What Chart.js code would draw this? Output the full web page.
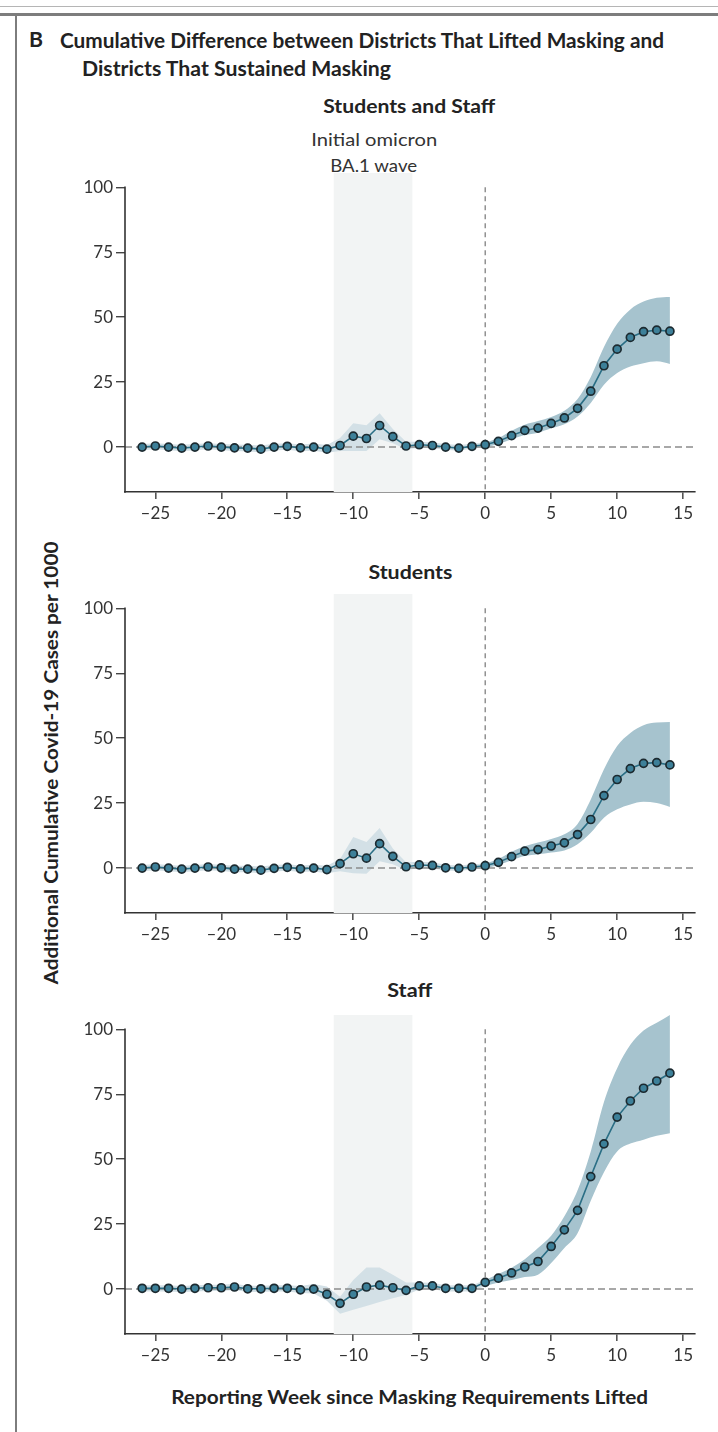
<!DOCTYPE html>
<html><head><meta charset="utf-8">
<script src="https://cdn.jsdelivr.net/npm/chart.js@4.4.1/dist/chart.umd.min.js"></script>
<style>
html,body{margin:0;padding:0;background:#fff;}
body{width:718px;height:1432px;position:relative;overflow:hidden;font-family:Lato,"Open Sans",sans-serif;}
.t{position:absolute;white-space:nowrap;line-height:24px;height:24px;color:#222;display:inline-block;}
.b{font-weight:700;}
canvas{position:absolute;left:0;}
.hl{position:absolute;left:0;width:718px;}
</style>
</head><body>
<div class="hl" style="top:6px;height:1px;background:#b5b5b5"></div>
<div class="hl" style="top:13px;height:3px;background:#7d7d7d"></div>
<div style="position:absolute;left:15px;top:15px;width:2px;height:1417px;background:#7d7d7d"></div>

<div class="t b" style="font-size:21px" data-x="29" data-y="39" data-w="14">B</div>
<div class="t b" style="font-size:20px" data-x="60" data-y="40" data-w="604">Cumulative Difference between Districts That Lifted Masking and</div>
<div class="t b" style="font-size:20px" data-x="82" data-y="68" data-w="309">Districts That Sustained Masking</div>
<div class="t b" style="font-size:18px" data-x="409" data-y="106" data-w="172" data-a="c">Students and Staff</div>
<div class="t" style="font-size:17px;color:#333" data-x="374" data-y="140" data-w="126" data-a="c">Initial omicron</div>
<div class="t" style="font-size:17px;color:#333" data-x="374" data-y="166" data-w="87" data-a="c">BA.1 wave</div>
<div class="t b" style="font-size:18px" data-x="410" data-y="572" data-w="84" data-a="c">Students</div>
<div class="t b" style="font-size:18px" data-x="410" data-y="990" data-w="45" data-a="c">Staff</div>
<div class="t b" style="font-size:18px" data-x="410" data-y="1397" data-w="477" data-a="c">Reporting Week since Masking Requirements Lifted</div>
<div class="t b" id="ylab" style="font-size:18px" data-x="51" data-y="763" data-w="443" data-a="r">Additional Cumulative Covid-19 Cases per 1000</div>

<canvas id="c1"></canvas>
<canvas id="c2"></canvas>
<canvas id="c3"></canvas>

<script>
// ---------- data ----------
const weeks = [-26,-25,-24,-23,-22,-21,-20,-19,-18,-17,-16,-15,-14,-13,-12,-11,-10,-9,-8,-7,-6,-5,-4,-3,-2,-1,0,1,2,3,4,5,6,7,8,9,10,11,12,13,14];
const xTicks = [-25,-20,-15,-10,-5,0,5,10,15];
const yTicks = [0,25,50,75,100];
const waveWeeks = [-11.5,-5.5];
const liftWeek = 0;

// Students and Staff
const bothMean  = [0,0.4,0,-0.4,0,0.4,0,-0.3,-0.4,-0.8,0,0.3,-0.3,0,-0.8,0.6,4.2,3.3,8.3,4,0.4,0.9,0.6,0,-0.4,0.3,0.9,2.2,4.4,6.4,7.3,9.1,11.2,14.9,21.5,31.3,37.7,42.2,44.4,45,44.6];
const bothUpper = [1.2,1.5,1.2,0.9,1.2,1.5,1.2,1,0.9,0.6,1.3,1.5,1,1.4,0.8,3.5,9.2,8.4,13,7,2,2,1.8,1.2,0.8,1.3,1.8,3.5,6.3,8.6,10,11.6,14,18.5,27,38.5,47.5,53,56,57.5,57.8];
const bothLower = [-1.2,-0.8,-1.2,-1.6,-1.2,-0.8,-1.2,-1.5,-1.7,-2,-1.3,-1,-1.6,-1.4,-2.2,-1.5,-1.5,-1.5,3,1.5,-0.8,-0.3,-0.5,-1,-1.4,-0.6,0,1.2,3,4.6,5.5,7.2,8.8,11.8,17,24,28.5,31,32.3,33,32];

// Students
const studMean  = [0,0.4,0,-0.4,0,0.4,0.1,-0.4,-0.4,-0.8,-0.1,0.3,-0.3,0,-0.6,1.7,5.5,3.8,9.4,4.5,0.5,1.2,1,0.1,-0.1,0.4,0.9,2.2,4.4,6.5,7.1,8.5,9.7,12.9,18.7,27.9,34.1,38.3,40.3,40.6,39.7];
const studUpper = [1.2,1.6,1.2,0.9,1.2,1.6,1.3,0.9,0.9,0.6,1.2,1.5,1,1.3,0.9,3.5,12,10,15.4,7.5,2.2,2.4,2.2,1.3,1,1.5,1.8,3.5,6.3,8.4,9.8,11.2,13,17,26.4,38,47,52,55,56,56.2];
const studLower = [-1.2,-0.8,-1.2,-1.6,-1.2,-0.8,-1.1,-1.6,-1.6,-2,-1.3,-1,-1.5,-1.3,-2,-1.2,-2,-2.2,2.6,1.5,-0.8,0,-0.2,-0.9,-1.1,-0.6,0,1.2,3,4.6,5.3,6,6.8,9.2,13.6,19.4,22.6,24.5,25.5,25,23.5];

// Staff
const staffMean  = [0.3,0.3,0.3,0,0.3,0.5,0.5,0.8,0.1,0.1,0.3,0.3,-0.3,0,-2,-5.5,-2,0.8,1.5,0.5,-0.5,1.2,1.2,0.3,0.3,0.3,2.6,4.2,6.2,8.5,10.6,16.4,22.8,30.3,43.3,55.9,66.2,72.4,77.3,80.1,83.1];
const staffUpper = [1.5,1.5,1.5,1.2,1.5,1.7,1.7,2,1.3,1.3,1.5,1.5,1.2,1.9,1,-3,3.5,8.3,8.3,5.5,2.5,2.5,2.4,1.5,1.5,1.5,3.5,5.8,8.2,11.5,15.8,20.5,28,38,53,72,85,94,99.5,102.5,105.5];
const staffLower = [-0.9,-0.9,-0.9,-1.2,-0.9,-0.7,-0.7,-0.4,-1.1,-1.1,-0.9,-0.9,-1.5,-1.7,-4.5,-9.5,-8,-6.5,-5,-3.5,-2.3,-0.2,0,-0.9,-0.9,-0.9,1.2,2.5,3.5,4.6,5.5,10,15.8,21.5,34,45,53,56,57.5,59,60];

// ---------- text placement ----------
document.querySelectorAll('.t').forEach(el=>{
  const w=+el.dataset.w, x=+el.dataset.x, y=+el.dataset.y, a=el.dataset.a||'l';
  const nat=el.getBoundingClientRect().width;
  const s=w/nat;
  el.style.top=(y-12)+'px';
  if(a==='r'){
    el.style.left=(x-nat/2)+'px';
    el.style.transformOrigin='50% 50%';
    el.style.transform='rotate(-90deg) scaleX('+s+')';
  } else if(a==='c'){
    el.style.left=(x-nat/2)+'px';
    el.style.transformOrigin='50% 50%';
    el.style.transform='scaleX('+s+')';
  } else {
    el.style.left=x+'px';
    el.style.transformOrigin='0 50%';
    el.style.transform='scaleX('+s+')';
  }
});

// ---------- charts ----------
const X_MIN=-27.3, X_MAX=15.9, Y_MIN=-17.3, Y_MAX=105.5;
const PAD_TOP=20, X_AXIS_H=40, Y_AXIS_W=125, PAD_RIGHT=23;

const axisLine={id:'axisLine',afterDraw(chart){
  const {ctx,chartArea,scales:{y}}=chart;
  ctx.save();ctx.strokeStyle='#333';ctx.lineWidth=1.6;
  ctx.beginPath();ctx.moveTo(chartArea.left,y.getPixelForValue(yTicks[yTicks.length-1])-0.8);
  ctx.lineTo(chartArea.left,chartArea.bottom+0.8);ctx.stroke();ctx.restore();
}};

function pts(a){return a.map((v,i)=>({x:weeks[i],y:v}));}
const iLift=weeks.indexOf(liftWeek);

function makePanel(id, areaTop, areaBottom, mean, upper, lower){
  const cv=document.getElementById(id);
  const top=areaTop-PAD_TOP, h=(areaBottom+X_AXIS_H)-top;
  cv.width=718; cv.height=Math.round(h);
  cv.style.top=top+'px'; cv.style.width='718px'; cv.style.height=Math.round(h)+'px';
  const pre=a=>pts(a).slice(0,iLift+1), post=a=>pts(a).slice(iLift);
  const tickFont={family:'Lato',size:17};
  new Chart(cv,{
    type:'line',
    data:{datasets:[
      {data:pts(mean),borderColor:'#2a6e85',borderWidth:1.6,pointRadius:4,pointBackgroundColor:'#3d8099',pointBorderColor:'#1c2a30',pointBorderWidth:1.7,tension:0,order:1},
      {data:[{x:X_MIN,y:0},{x:X_MAX,y:0}],borderColor:'#8c8c8c',borderDash:[7,4],borderWidth:1.5,pointRadius:0,order:2},
      {data:[{x:liftWeek,y:yTicks[yTicks.length-1]},{x:liftWeek,y:Y_MIN}],borderColor:'#808080',borderDash:[5,4],borderWidth:1.3,pointRadius:0,order:2},
      {data:post(upper),fill:'+1',backgroundColor:'#a6c3ce',borderWidth:0,pointRadius:0,tension:0.35,cubicInterpolationMode:'monotone',order:3},
      {data:post(lower),fill:false,borderWidth:0,pointRadius:0,tension:0.35,cubicInterpolationMode:'monotone',order:3},
      {data:pre(upper),fill:'+1',backgroundColor:'#d3e0e6',borderWidth:0,pointRadius:0,tension:0,order:3},
      {data:pre(lower),fill:false,borderWidth:0,pointRadius:0,tension:0,order:3},
      {data:[{x:waveWeeks[0],y:Y_MAX},{x:waveWeeks[1],y:Y_MAX}],fill:'start',backgroundColor:'#f2f4f4',borderWidth:0,pointRadius:0,order:4}
    ]},
    options:{
      responsive:false,animation:false,devicePixelRatio:1,
      layout:{padding:{top:PAD_TOP,right:PAD_RIGHT,left:0,bottom:0}},
      plugins:{legend:{display:false},tooltip:{enabled:false},title:{display:false}},
      events:[],
      scales:{
        x:{type:'linear',min:X_MIN,max:X_MAX,
          afterBuildTicks:s=>{s.ticks=xTicks.map(v=>({value:v}));},
          afterFit:s=>{s.height=X_AXIS_H;},
          ticks:{font:tickFont,color:'#333',padding:4,maxRotation:0,autoSkip:false,
            callback:v=>String(v).replace('-','\u2013')},
          grid:{drawOnChartArea:false,drawTicks:true,tickLength:7,color:'#555',lineWidth:1.6},
          border:{display:true,color:'#333',width:1.6}},
        y:{type:'linear',min:Y_MIN,max:Y_MAX,
          afterBuildTicks:s=>{s.ticks=yTicks.map(v=>({value:v}));},
          afterFit:s=>{s.width=Y_AXIS_W;},
          ticks:{font:tickFont,color:'#333',padding:3},
          grid:{drawOnChartArea:false,drawTicks:true,tickLength:9,color:'#444',lineWidth:1.4},
          border:{display:false}}
      }
    },
    plugins:[axisLine]
  });
}

makePanel('c1',172.7,492,bothMean,bothUpper,bothLower);
makePanel('c2',594,913.3,studMean,studUpper,studLower);
makePanel('c3',1014.7,1334,staffMean,staffUpper,staffLower);
</script>
</body></html>
